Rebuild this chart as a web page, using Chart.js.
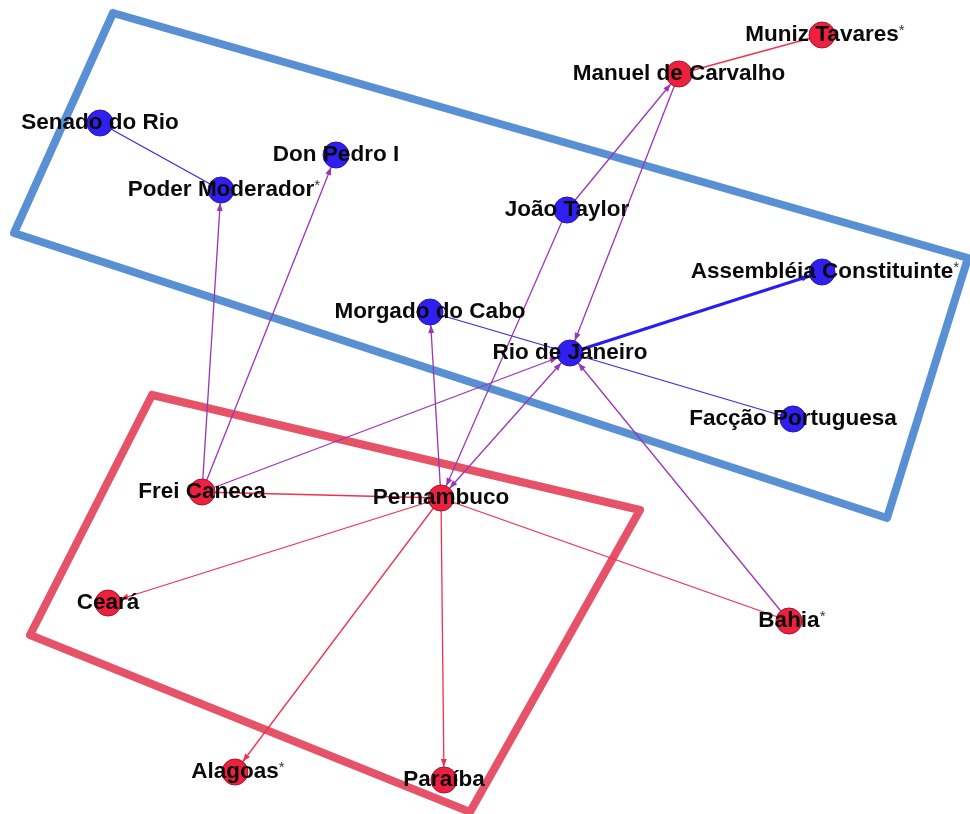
<!DOCTYPE html>
<html>
<head>
<meta charset="utf-8">
<script src="https://cdn.jsdelivr.net/npm/chart.js@4.4.0/dist/chart.umd.min.js"></script>
<style>
  html, body { margin: 0; padding: 0; background: #fff; }
  #wrap { width: 970px; height: 814px; }
</style>
</head>
<body>
<div id="wrap"><canvas id="net" width="970" height="814"></canvas></div>
<script>
// nós da rede
const nodeNames = ['Senado do Rio', 'Poder Moderador', 'Don Pedro I', 'Manuel de Carvalho', 'Muniz Tavares',
  'João Taylor', 'Assembléia Constituinte', 'Morgado do Cabo', 'Rio de Janeiro', 'Facção Portuguesa',
  'Frei Caneca', 'Pernambuco', 'Ceará', 'Bahia', 'Alagoas', 'Paraíba'];
const nodeX = [100, 221, 336, 679, 822, 567, 822, 430, 570, 793, 202, 441, 108, 789, 235, 444];
const nodeY = [123, 190, 155, 74, 35, 210, 272, 312, 353, 419, 492, 498, 603, 621, 772, 780];
const nodeGroup = ['rio', 'rio', 'rio', 'pe', 'pe', 'rio', 'rio', 'rio', 'rio', 'rio',
  'pe', 'pe', 'pe', 'pe', 'pe', 'pe'];
const starred = [false, true, false, false, true, false, true, false, false, false,
  false, false, false, true, true, false];

// arestas: origem, destino, tipo, seta
const edgeFrom = [0, 3, 10, 10, 10, 10, 5, 5, 3, 8, 8, 8, 11, 11, 13, 11, 11, 11, 11];
const edgeTo   = [1, 4, 1, 2, 8, 11, 3, 11, 8, 6, 7, 9, 7, 8, 8, 13, 12, 14, 15];
const edgeKind = ['rio', 'pe', 'mix', 'mix', 'mix', 'pe', 'mix', 'mix', 'mix', 'rioStrong', 'rio', 'rio',
  'mix', 'mix', 'mix', 'pe', 'pe', 'pe', 'pe'];
const edgeArrow = ['none', 'none', 'to', 'to', 'to', 'none', 'to', 'to', 'to', 'to', 'none', 'none',
  'to', 'both', 'to', 'none', 'to', 'to', 'to'];

// contornos dos grupos
const blueBoxX = [113, 968, 887, 14, 113];
const blueBoxY = [13, 258, 518, 233, 13];
const redBoxX = [152, 640, 470, 30, 152];
const redBoxY = [395, 510, 812, 635, 395];

const edgeColors = {
  rio: '#3a2ae8',
  rioStrong: '#2b1cf0',
  pe: '#f0304e',
  mix: '#9a35b6'
};

const datasets = [];

datasets.push({
  data: blueBoxX.map((x, i) => ({ x: x, y: blueBoxY[i] })),
  showLine: true, borderColor: 'rgba(70,132,206,0.9)', borderWidth: 8,
  pointRadius: 0, borderJoinStyle: 'round', borderCapStyle: 'round', order: 5
});
datasets.push({
  data: redBoxX.map((x, i) => ({ x: x, y: redBoxY[i] })),
  showLine: true, borderColor: 'rgba(226,58,82,0.88)', borderWidth: 8,
  pointRadius: 0, borderJoinStyle: 'round', borderCapStyle: 'round', order: 5
});

edgeFrom.forEach((s, i) => {
  const t = edgeTo[i];
  datasets.push({
    data: [{ x: nodeX[s], y: nodeY[s] }, { x: nodeX[t], y: nodeY[t] }],
    showLine: true,
    borderColor: edgeColors[edgeKind[i]],
    borderWidth: edgeKind[i] === 'rioStrong' ? 3 : 1.3,
    pointRadius: 0,
    order: 3
  });
});

['rio', 'pe'].forEach(g => {
  const pts = [];
  nodeNames.forEach((n, i) => { if (nodeGroup[i] === g) pts.push({ x: nodeX[i], y: nodeY[i] }); });
  datasets.push({
    data: pts,
    showLine: false,
    pointRadius: 13,
    pointBackgroundColor: g === 'rio' ? '#2f1ff0' : '#ee2040',
    pointBorderColor: g === 'rio' ? '#2a1aa8' : '#a81428',
    pointBorderWidth: 1,
    order: 1
  });
});

// desenha setas e rótulos por cima
const overlayPlugin = {
  id: 'overlay',
  afterDatasetsDraw(chart) {
    const ctx = chart.ctx;
    const xs = chart.scales.x, ys = chart.scales.y;
    const px = i => xs.getPixelForValue(nodeX[i]);
    const py = i => ys.getPixelForValue(nodeY[i]);

    function arrowHead(a, b, color) {
      const x1 = px(a), y1 = py(a), x2 = px(b), y2 = py(b);
      const dx = x2 - x1, dy = y2 - y1;
      const len = Math.sqrt(dx * dx + dy * dy);
      const ux = dx / len, uy = dy / len;
      const tx = x2 - ux * 13, ty = y2 - uy * 13;
      const bx = tx - ux * 8, by = ty - uy * 8;
      ctx.beginPath();
      ctx.moveTo(tx, ty);
      ctx.lineTo(bx - uy * 3, by + ux * 3);
      ctx.lineTo(bx + uy * 3, by - ux * 3);
      ctx.closePath();
      ctx.fillStyle = color;
      ctx.fill();
    }

    ctx.save();
    edgeFrom.forEach((s, i) => {
      const t = edgeTo[i];
      const c = edgeColors[edgeKind[i]];
      if (edgeArrow[i] === 'to' || edgeArrow[i] === 'both') arrowHead(s, t, c);
      if (edgeArrow[i] === 'from' || edgeArrow[i] === 'both') arrowHead(t, s, c);
    });

    ctx.textAlign = 'center';
    ctx.textBaseline = 'middle';
    nodeNames.forEach((name, i) => {
      ctx.font = 'bold 22.5px "Liberation Sans", Arial, sans-serif';
      ctx.fillStyle = '#0a0a0a';
      const x = px(i), y = py(i);
      ctx.fillText(name, x, y);
      if (starred[i]) {
        const w = ctx.measureText(name).width;
        ctx.font = '15px "Liberation Sans", Arial, sans-serif';
        ctx.fillStyle = '#333';
        ctx.fillText('*', x + w / 2 + 3, y - 4);
      }
    });
    ctx.restore();
  }
};

new Chart(document.getElementById('net'), {
  type: 'scatter',
  data: { datasets: datasets },
  options: {
    responsive: false,
    animation: false,
    layout: { autoPadding: false, padding: 0 },
    plugins: { legend: { display: false }, tooltip: { enabled: false } },
    scales: {
      x: { type: 'linear', min: 0, max: 970, display: false },
      y: { type: 'linear', min: 0, max: 814, reverse: true, display: false }
    }
  },
  plugins: [overlayPlugin]
});
</script>
</body>
</html>
